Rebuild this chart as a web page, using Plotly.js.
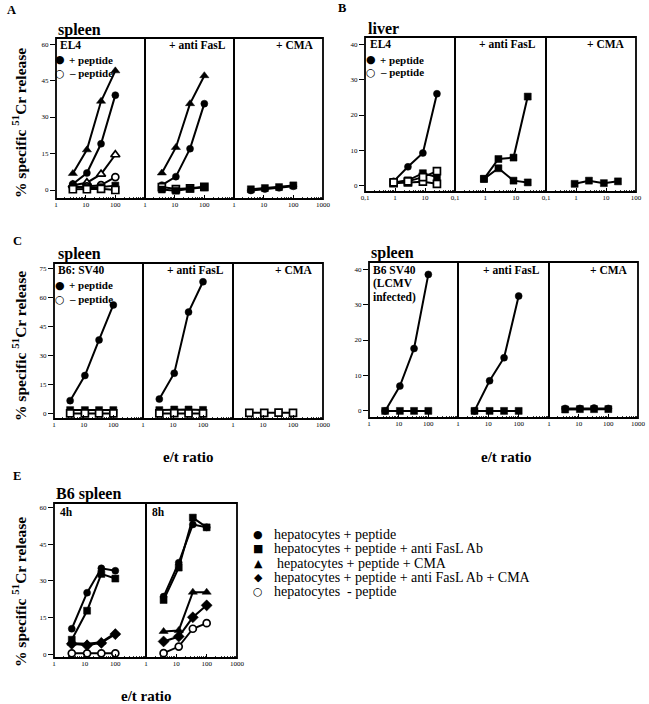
<!DOCTYPE html>
<html><head><meta charset="utf-8">
<script src="https://cdn.plot.ly/plotly-3.0.1.min.js"></script>
<style>html,body{margin:0;padding:0;background:#fff}</style>
</head><body><div id="chart" style="width:649px;height:704px"></div>
<script>
// ---------------- DATA ----------------
// Panel A – spleen effectors vs EL4 targets
const etA = [3.7, 11, 33, 100];
const A1_fCircle   = [2.5, 7, 19, 39];
const A1_fTriangle = [6.8, 16.5, 36.5, 49];
const A1_oTriangle = [2, 3, 6.5, 14.5];
const A1_oCircle   = [1, 1.5, 2, 5.3];
const A1_fSquare   = [1.5, 1, 1.2, 1.8];
const A1_oSquare   = [0.3, 0.3, 0.5, 0];
const A2_fTriangle = [7, 17.5, 35.5, 47];
const A2_fCircle   = [2, 5.5, 17, 35.5];
const A2_fSquare   = [0.2, -0.3, 0.5, 1.1];
const A2_oSquare   = [1.2, 0.4, 0.7, 1.3];
const A3_fSquare   = [0.3, 0.8, 1.2, 1.9];
const A3_fCircle   = [-0.2, 0.4, 0.9, 1.5];
// Panel B – liver effectors vs EL4 targets
const etB = [0.9, 2.7, 8.5, 25];
const B1_fCircle  = [1.3, 5.4, 9.3, 26];
const B1_fSquare  = [1, 1.6, 3.6, 2.5];
const B1_oSquare  = [1, 1.3, 2.5, 4.2];
const B1_oSquare2 = [0.8, 1.0, 1.2, 0.6];
const B2_fSquare  = [2, 7.6, 8, 25.2];
const B2_fSquare2 = [2, 5, 1.5, 1];
const B3_fSquare  = [0.6, 1.5, 0.8, 1.3];
// Panel C – spleen vs B6:SV40 targets
const etC = [3.5, 11, 33, 100];
const CL1_fCircle = [6.9, 19.9, 38.3, 56.4];
const CL1_fSquare = [2, 2, 2, 2];
const CL1_oSquare = [0.3, 0.3, 0.3, 0.3];
const CL2_fCircle = [7.7, 21.1, 52.7, 68.4];
const CL2_fSquare = [2, 2.3, 2.3, 2.1];
const CL2_oSquare = [0.3, 0.4, 0.3, 0.3];
const CL3_oSquare = [0.6, 0.6, 0.7, 0.6];
const CR1_fCircle = [0, 7, 17.6, 38.5];
const CR1_fSquare = [0, 0, 0, 0];
const CR2_fCircle = [0, 8.5, 15, 32.4];
const CR2_fSquare = [0, 0, 0, 0];
const CR3_fCircle = [0.7, 0.7, 0.8, 0.7];
const CR3_fSquare = [0.4, 0.5, 0.5, 0.5];
// Panel E – B6 spleen vs hepatocytes, 4h / 8h
const etE = [3.8, 12, 35, 100];
const E1_circle   = [10.4, 25.2, 35.2, 34.2];
const E1_square   = [5.9, 17.8, 32.9, 31];
const E1_triangle = [4.5, 4.2, 4.9, 8.6];
const E1_diamond  = [4.2, 3.6, 4.6, 8.2];
const E1_oCircle  = [0.3, 0.3, 0.3, 0.3];
const E2_circle   = [23.6, 37.5, 53.2, 52];
const E2_square   = [22.2, 35.5, 56, 52];
const E2_triangle = [9.3, 9.7, 25.4, 25.4];
const E2_diamond  = [5.2, 7.2, 15.1, 20];
const E2_oCircle  = [0.4, 3.1, 10.4, 12.7];

const logTicks   = [1, 10, 100, 1000];
const logText    = ['1', '10', '100', '1000'];
const logTicksB  = [0.1, 1, 10, 100];
const logTextB   = ['0,1', '1', '10', '100'];
const yTicks60 = [0, 15, 30, 45, 60];
const yTicks40 = [0, 10, 20, 30, 40];
const yTicks75 = [0, 15, 30, 45, 60, 75];

const legendE = [
  ['●', 'hepatocytes + peptide'],
  ['■', 'hepatocytes + peptide + anti FasL Ab'],
  ['▲', 'hepatocytes + peptide + CMA'],
  ['◆', 'hepatocytes + peptide + anti FasL Ab + CMA'],
  ['○', 'hepatocytes \u00a0- peptide']
];

// ---------------- LAYOUT ----------------
const W = 649, H = 704;
const PX = v => v / W, PY = v => 1 - v / H;
const SERIF = 'Liberation Serif';
const SYM = 'DejaVu Sans';

const S = (y, sym, open) => ({y, sym, open});
const groups = [
  {xs: [56, 145, 234, 323], top: 38, bottom: 199, yr: [-3.7, 62.5], yt: yTicks60, xr: [0, 3], xt: logTicks, xl: logText, et: etA,
   subs: [
     [S(A1_fTriangle,'triangle-up'), S(A1_fCircle,'circle'), S(A1_oTriangle,'triangle-up',1), S(A1_oCircle,'circle',1), S(A1_fSquare,'square'), S(A1_oSquare,'square',1)],
     [S(A2_fTriangle,'triangle-up'), S(A2_fCircle,'circle'), S(A2_oSquare,'square',1), S(A2_fSquare,'square')],
     [S(A3_fCircle,'circle'), S(A3_fSquare,'square')]
   ]},
  {xs: [365, 455, 546, 636], top: 37, bottom: 192, yr: [-1.7, 42], yt: yTicks40, xr: [-1, 2], xt: logTicksB, xl: logTextB, et: etB,
   subs: [
     [S(B1_fCircle,'circle'), S(B1_oSquare2,'square',1), S(B1_fSquare,'square'), S(B1_oSquare,'square',1)],
     [S(B2_fSquare,'square'), S(B2_fSquare2,'square')],
     [S(B3_fSquare,'square')]
   ]},
  {xs: [54, 143, 233, 323], top: 263, bottom: 419, yr: [-2.6, 78.1], yt: yTicks75, xr: [0, 3], xt: logTicks, xl: logText, et: etC,
   subs: [
     [S(CL1_fCircle,'circle'), S(CL1_fSquare,'square'), S(CL1_oSquare,'square',1)],
     [S(CL2_fCircle,'circle'), S(CL2_fSquare,'square'), S(CL2_oSquare,'square',1)],
     [S(CL3_oSquare,'square',1)]
   ]},
  {xs: [369, 458, 549, 638], top: 262, bottom: 418, yr: [-2, 42], yt: yTicks40, xr: [0, 3], xt: logTicks, xl: logText, et: etC,
   subs: [
     [S(CR1_fCircle,'circle'), S(CR1_fSquare,'square')],
     [S(CR2_fCircle,'circle'), S(CR2_fSquare,'square')],
     [S(CR3_fCircle,'circle'), S(CR3_fSquare,'square')]
   ]},
  {xs: [54, 146, 237], top: 503, bottom: 658, yr: [-1.6, 62], yt: yTicks60, xr: [0, 3], xt: logTicks, xl: logText, et: etE,
   subs: [
     [S(E1_oCircle,'circle',1), S(E1_triangle,'triangle-up'), S(E1_diamond,'diamond'), S(E1_square,'square'), S(E1_circle,'circle')],
     [S(E2_oCircle,'circle',1), S(E2_diamond,'diamond'), S(E2_triangle,'triangle-up'), S(E2_circle,'circle'), S(E2_square,'square')]
   ]}
];

const layout = {
  width: W, height: H, margin: {l: 0, r: 0, t: 0, b: 0},
  paper_bgcolor: '#fff', plot_bgcolor: 'rgba(0,0,0,0)', showlegend: false,
  font: {family: SERIF, color: '#000'},
  shapes: [], annotations: []
};
const traces = [];
const tickFont = {family: SERIF, size: 7, color: '#000'};
let xi = 0, yi = 0;
groups.forEach(g => {
  yi++;
  const yName = yi === 1 ? 'yaxis' : 'yaxis' + yi;
  const yRef = yi === 1 ? 'y' : 'y' + yi;
  const firstX = xi + 1;
  layout[yName] = {
    domain: [PY(g.bottom), PY(g.top)], range: g.yr, anchor: firstX === 1 ? 'x' : 'x' + firstX,
    tickmode: 'array', tickvals: g.yt, ticks: 'outside', ticklen: 5, tickwidth: 1, tickcolor: '#000',
    showline: false, showgrid: false, zeroline: false, tickfont: tickFont, fixedrange: true
  };
  g.subs.forEach((series, k) => {
    xi++;
    const xName = xi === 1 ? 'xaxis' : 'xaxis' + xi;
    const xRef = xi === 1 ? 'x' : 'x' + xi;
    const last = k === g.subs.length - 1;
    layout[xName] = {
      type: 'log', domain: [PX(g.xs[k]), PX(g.xs[k + 1])], range: g.xr, anchor: yRef,
      tickmode: 'array', tickvals: last ? g.xt : g.xt.slice(0, -1), ticktext: last ? g.xl : g.xl.slice(0, -1),
      ticks: 'inside', ticklen: 4, tickwidth: 1, tickcolor: '#000',
      minor: {ticks: 'inside', ticklen: 2, tickwidth: 0.8, tickcolor: '#000', dtick: 'D1', showgrid: false},
      showline: false, showgrid: false, zeroline: false, tickfont: tickFont, fixedrange: true
    };
    layout.shapes.push({type: 'rect', xref: 'paper', yref: 'paper', x0: PX(g.xs[k]), x1: PX(g.xs[k + 1]),
      y0: PY(g.bottom), y1: PY(g.top), line: {color: '#000', width: 1.8}, layer: 'below'});
    series.forEach(s => traces.push({
      type: 'scatter', mode: 'lines+markers', x: g.et, y: s.y, xaxis: xRef, yaxis: yRef,
      line: {color: '#000', width: 2},
      marker: {symbol: s.sym, size: s.sym === 'triangle-up' ? 8 : (s.sym === 'diamond' ? 8.5 : 7),
               color: s.open ? '#fff' : '#000', line: {color: '#000', width: s.open ? 1.7 : 0.5}},
      hoverinfo: 'skip', cliponaxis: false
    }));
  });
});

function ann(text, x, y, o = {}) {
  layout.annotations.push(Object.assign({
    text, x: PX(x), y: PY(y), xref: 'paper', yref: 'paper', showarrow: false,
    xanchor: 'left', yanchor: 'middle',
    font: {family: SERIF, size: 11, color: '#000'}
  }, o));
}
const bold = (s, size) => ({font: {family: SERIF, size, color: '#000'}});
const B = t => '<b>' + t + '</b>';

// panel letters
ann(B('A'), 5, 10, bold(0, 12.5));
ann(B('B'), 336, 8, bold(0, 12.5));
ann(B('C'), 11, 241, bold(0, 12.5));
ann(B('E'), 11, 476, bold(0, 12.5));
// panel titles
const TT = 16;
ann(B('spleen'), 56, 30, bold(0, TT));
ann(B('liver'), 366, 29, bold(0, TT));
ann(B('spleen'), 56, 254, bold(0, TT));
ann(B('spleen'), 369, 253, bold(0, TT));
ann(B('B6 spleen'), 54, 494, bold(0, TT));
// y titles
const yTitle = '<b>% specific <sup>51</sup>Cr release</b>';
[123, 346, 592].forEach(yc => ann(yTitle, 19, yc, Object.assign(bold(0, 15.5), {textangle: -90, xanchor: 'center'})));
// x titles
ann(B('e/t ratio'), 188, 457, Object.assign(bold(0, 15), {xanchor: 'center'}));
ann(B('e/t ratio'), 506, 457, Object.assign(bold(0, 15), {xanchor: 'center'}));
ann(B('e/t ratio'), 146, 696, Object.assign(bold(0, 15), {xanchor: 'center'}));
// sub-panel labels
const SUB = 11.5;
ann(B('EL4'), 58, 45, bold(0, SUB));
ann(B('+ anti FasL'), 228, 45, Object.assign(bold(0, SUB), {xanchor: 'right'}));
ann(B('+ CMA'), 316, 45, Object.assign(bold(0, SUB), {xanchor: 'right'}));
ann(B('EL4'), 368, 44, bold(0, SUB));
ann(B('+ anti FasL'), 538, 44, Object.assign(bold(0, SUB), {xanchor: 'right'}));
ann(B('+ CMA'), 627, 44, Object.assign(bold(0, SUB), {xanchor: 'right'}));
ann(B('B6: SV40'), 56, 270, bold(0, SUB));
ann(B('+ anti FasL'), 226, 270, Object.assign(bold(0, SUB), {xanchor: 'right'}));
ann(B('+ CMA'), 315, 270, Object.assign(bold(0, SUB), {xanchor: 'right'}));
ann(B('B6 SV40'), 371, 270, bold(0, SUB));
ann(B('(LCMV'), 371, 283, bold(0, SUB));
ann(B('infected)'), 371, 297, bold(0, SUB));
ann(B('+ anti FasL'), 542, 270, Object.assign(bold(0, SUB), {xanchor: 'right'}));
ann(B('+ CMA'), 630, 270, Object.assign(bold(0, SUB), {xanchor: 'right'}));
ann(B('4h'), 58, 512, bold(0, SUB));
ann(B('8h'), 150, 512, bold(0, SUB));
// in-panel peptide keys
const sym = (c, x, y, sz) => ann(c, x, y, {xanchor: 'center', font: {family: SYM, size: sz || 11, color: '#000'}});
[[60, 60, 73, 67], [371, 60, 72, 378], [60, 285, 299, 67]].forEach(([sx, y1, y2, tx]) => {
  sym('●', sx, y1); ann(B('+ peptide'), tx, y1, bold(0, 11));
  sym('<b>○</b>', sx, y2); ann(B('– peptide'), tx, y2, bold(0, 11));
});
// panel E legend
const legY = [534, 548.5, 563, 577, 591];
legendE.forEach(([c, t], i) => {
  sym(c, 258, legY[i]);
  ann(t, i === 2 ? 275 : 272, legY[i], {font: {family: SERIF, size: 14, color: '#000'}});
});

Plotly.newPlot('chart', traces, layout, {staticPlot: true});
</script></body></html>
